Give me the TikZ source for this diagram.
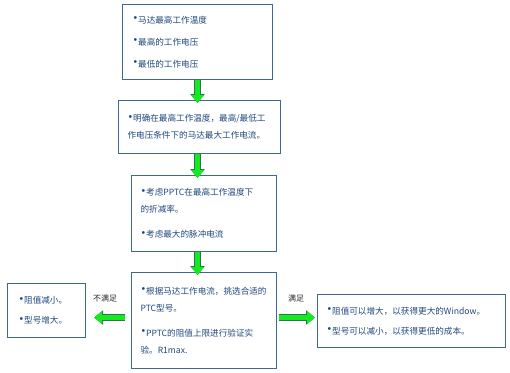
\documentclass[tikz,border=0pt]{standalone}
\usepackage{fontspec}
\setmainfont{Noto Sans CJK SC}
\newfontfamily\bulfont{DejaVu Sans}
\usetikzlibrary{arrows.meta}
\newcommand\bul{{\bulfont\fontsize{9.5}{9.5}\selectfont\raisebox{.3ex}{•}}}
\begin{document}
\begin{tikzpicture}[x=1pt,y=-1pt,
  infobox/.style={draw={rgb,255:red,62;green,104;blue,145},line width=1.1pt,fill=white,anchor=north west,align=left,inner ysep=0pt,text={rgb,255:red,31;green,73;blue,125},font=\fontsize{8.6}{17}\selectfont},
  flow/.style={line width=5.2pt,draw={rgb,255:red,20;green,235;blue,30},-{Triangle[width=12.5pt,length=8pt]},
    preaction={draw={rgb,255:red,50;green,110;blue,100},line width=6.4pt,-{Triangle[width=14pt,length=9pt]}}},
  note/.style={inner sep=0pt,text={rgb,255:red,40;green,40;blue,40},font=\fontsize{8}{9.6}\selectfont}]
\path[use as bounding box] (0,0) rectangle (510,372);
\node[infobox,minimum height=75pt,text width=130pt,inner xsep=10pt] (req) at (122,4) {\bul 马达最高工作温度\\[5pt]\bul 最高的工作电压\\[5pt]\bul 最低的工作电压};
\node[infobox,minimum height=53pt,text width=144pt,inner xsep=9pt] (cur) at (118,100) {\bul 明确在最高工作温度，最高/最低工\\作电压条件下的马达最大工作电流。};
\node[infobox,minimum height=76pt,text width=127pt,inner xsep=9pt] (pptc) at (131,175) {\bul 考虑PPTC在最高工作温度下\\的折减率。\\[8pt]\bul 考虑最大的脉冲电流};
\node[infobox,minimum height=96pt,text width=127pt,inner xsep=9pt] (pick) at (131,272) {\bul 根据马达工作电流，挑选合适的\\PTC型号。\\[8pt]\bul PPTC的阻值上限进行验证实\\验。R1max.};
\node[infobox,minimum height=54pt,text width=56pt,inner xsep=11pt] (less) at (7,283) {\bul 阻值减小。\\[3pt]\bul 型号增大。};
\node[infobox,minimum height=53pt,text width=170pt,inner xsep=9pt] (more) at (317,294) {\bul 阻值可以增大，以获得更大的Window。\\[3pt]\bul 型号可以减小，以获得更低的成本。};
\node[note] (fail) at (105,298) {不满足};
\node[note] (pass) at (296,298) {满足};
\coordinate (side) at ([yshift=3pt]pick.west);
\coordinate (sider) at ([yshift=3pt]pick.east);
\draw[flow,shorten >=-3pt] (req.south) -- (req.south |- cur.north);
\draw[flow,shorten >=-3pt] (req.south |- cur.south) -- (req.south |- pptc.north);
\draw[flow,shorten >=-3pt] (req.south |- pptc.south) -- (req.south |- pick.north);
\draw[flow,shorten <=6pt,shorten >=8pt] (side) -- (side -| less.east);
\draw[flow,shorten <=2pt,shorten >=2pt] (sider) -- (sider -| more.west);
\end{tikzpicture}
\end{document}
